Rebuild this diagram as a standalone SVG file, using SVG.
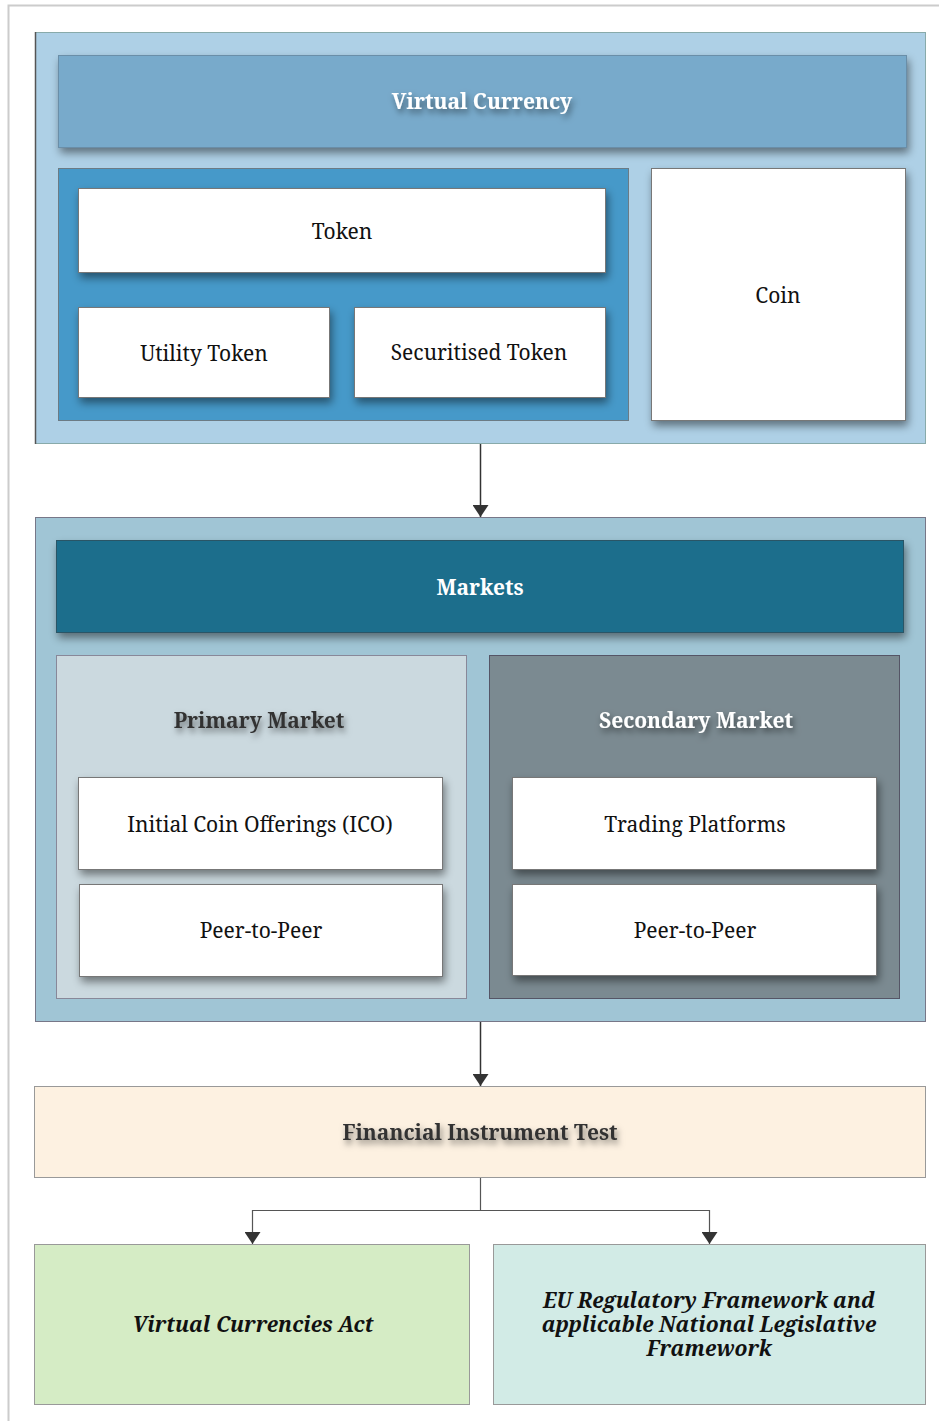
<svg xmlns="http://www.w3.org/2000/svg" width="939" height="1421" viewBox="0 0 939 1421">
<defs>
<filter id="sh" x="-10%" y="-10%" width="125%" height="140%"><feDropShadow dx="2" dy="5" stdDeviation="4" flood-color="#000" flood-opacity="0.45"/></filter>
<filter id="tsh" x="-10%" y="-50%" width="125%" height="220%"><feDropShadow dx="2" dy="4" stdDeviation="3" flood-color="#000" flood-opacity="0.5"/></filter>
<marker id="ah" viewBox="0 0 12 16" refX="12" refY="8" markerWidth="12" markerHeight="16" markerUnits="userSpaceOnUse" orient="auto"><path d="M0,0 L12,8 L0,16 z" fill="#333"/></marker>
</defs>
<style>
text{font-family:"Noto Serif","DejaVu Serif","Liberation Serif",serif;text-anchor:middle;dominant-baseline:central}
.lbl{font-size:21px;fill:#111}
.hdr{font-size:21px;font-weight:bold}
.wh{fill:#fff}
.dk{fill:#333}
.box{fill:#fff;stroke:#777;stroke-width:1}
.cont{stroke:#6b7b85;stroke-width:1}
.conn{fill:none;stroke:#333;stroke-width:1.5}
.conn2{fill:none;stroke:#555;stroke-width:1.2}
.bi{font-size:21px;font-weight:bold;font-style:italic;fill:#111}
</style>
<rect x="8.5" y="5.5" width="940" height="1430" fill="#fff" stroke="#ccc" stroke-width="2"/>

<g id="virtual-currency-group">
<rect x="35.5" y="32.5" width="890" height="411" fill="#aed0e6" stroke="#8aa" stroke-width="1"/>
<line x1="35.5" y1="32" x2="35.5" y2="444" stroke="#555" stroke-width="1.5"/>
</g>
<g id="virtual-currency-header">
<rect x="58.5" y="55.5" width="848" height="92" fill="#78aacb" stroke="#6a8ea8" filter="url(#sh)"/>
<text x="482" y="101" class="hdr wh" filter="url(#tsh)">Virtual Currency</text>
</g>
<g id="token-group">
<rect x="58.5" y="168.5" width="570" height="252" fill="#4699c9" class="cont"/>
</g>
<g id="token">
<rect x="78.5" y="188.5" width="527" height="84" class="box" filter="url(#sh)"/>
<text x="342" y="231" class="lbl">Token</text>
</g>
<g id="utility-token">
<rect x="78.5" y="307.5" width="251" height="90" class="box" filter="url(#sh)"/>
<text x="204" y="353" class="lbl">Utility Token</text>
</g>
<g id="securitised-token">
<rect x="354.5" y="307.5" width="251" height="90" class="box" filter="url(#sh)"/>
<text x="479" y="352" class="lbl">Securitised Token</text>
</g>
<g id="coin">
<rect x="651.5" y="168.5" width="254" height="252" class="box" filter="url(#sh)"/>
<text x="778" y="295" class="lbl">Coin</text>
</g>

<g id="markets-group">
<rect x="35.5" y="517.5" width="890" height="504" fill="#a0c5d5" stroke="#778" stroke-width="1"/>
</g>
<g id="markets-header">
<rect x="56.5" y="540.5" width="847" height="92" fill="#1e6e8c" stroke="#2c5566" filter="url(#sh)"/>
<text x="480" y="587" class="hdr wh">Markets</text>
</g>
<g id="primary-market">
<rect x="56.5" y="655.5" width="410" height="343" fill="#cbd9df" stroke="#889" stroke-width="1"/>
<text x="259" y="720" class="hdr dk" filter="url(#tsh)">Primary Market</text>
</g>
<g id="ico">
<rect x="78.5" y="777.5" width="364" height="92" class="box" filter="url(#sh)"/>
<text x="260" y="824" class="lbl">Initial Coin Offerings (ICO)</text>
</g>
<g id="p2p-primary">
<rect x="79.5" y="884.5" width="363" height="92" class="box" filter="url(#sh)"/>
<text x="261" y="930" class="lbl">Peer-to-Peer</text>
</g>
<g id="secondary-market">
<rect x="489.5" y="655.5" width="410" height="343" fill="#7b8a91" stroke="#556" stroke-width="1"/>
<text x="696" y="720" class="hdr wh" filter="url(#tsh)">Secondary Market</text>
</g>
<g id="trading-platforms">
<rect x="512.5" y="777.5" width="364" height="92" class="box" filter="url(#sh)"/>
<text x="695" y="824" class="lbl">Trading Platforms</text>
</g>
<g id="p2p-secondary">
<rect x="512.5" y="884.5" width="364" height="91" class="box" filter="url(#sh)"/>
<text x="695" y="930" class="lbl">Peer-to-Peer</text>
</g>

<g id="financial-instrument-test">
<rect x="34.5" y="1086.5" width="891" height="91" fill="#fdf1e1" stroke="#999" stroke-width="1"/>
<text x="480" y="1132" class="hdr dk" filter="url(#tsh)">Financial Instrument Test</text>
</g>
<g id="virtual-currencies-act">
<rect x="34.5" y="1244.5" width="435" height="160" fill="#d5ecc5" stroke="#999" stroke-width="1"/>
<text x="253" y="1324" class="bi">Virtual Currencies Act</text>
</g>
<g id="eu-framework">
<rect x="493.5" y="1244.5" width="432" height="160" fill="#d2ebe6" stroke="#999" stroke-width="1"/>
<text x="709" y="1300" class="bi">EU Regulatory Framework and</text>
<text x="709" y="1324" class="bi">applicable National Legislative</text>
<text x="709" y="1348" class="bi">Framework</text>
</g>

<g id="connectors">
<line x1="480.5" y1="444" x2="480.5" y2="517" class="conn" marker-end="url(#ah)"/>
<line x1="480.5" y1="1022" x2="480.5" y2="1086" class="conn" marker-end="url(#ah)"/>
<path d="M480.5,1178 V1210.5 H252.5 V1244" class="conn2" marker-end="url(#ah)"/>
<path d="M480.5,1210.5 H709.5 V1244" class="conn2" marker-end="url(#ah)"/>
</g>
</svg>
